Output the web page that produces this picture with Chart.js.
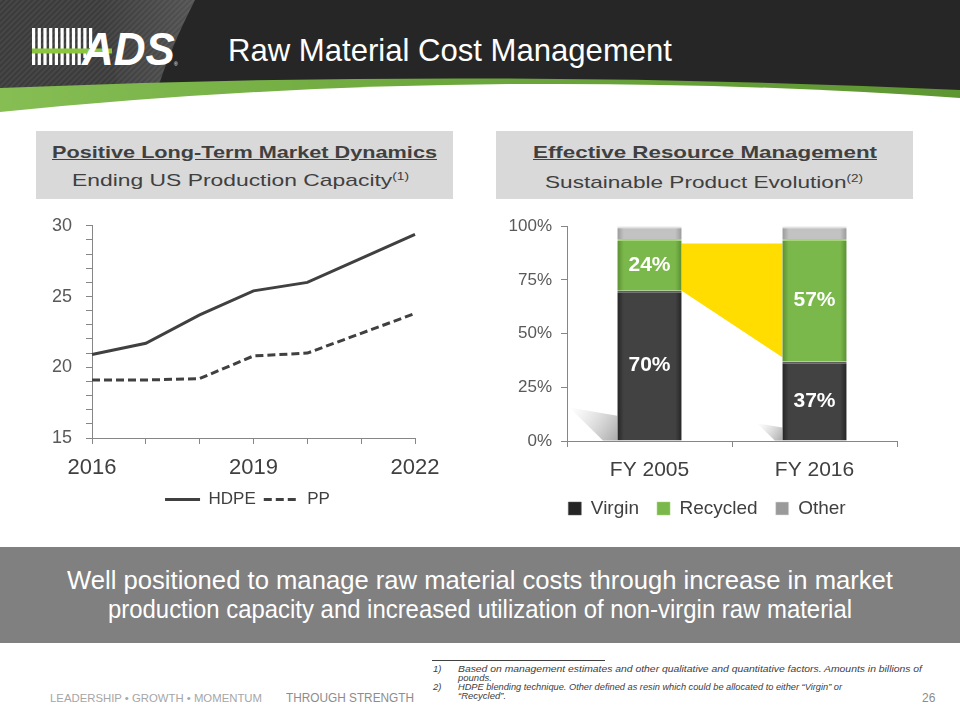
<!DOCTYPE html>
<html>
<head>
<meta charset="utf-8">
<script src="https://cdn.jsdelivr.net/npm/chart.js@4.4.0/dist/chart.umd.min.js"></script>
<style>
html,body{margin:0;padding:0;background:#fff;}
#slide{position:relative;width:960px;height:720px;overflow:hidden;font-family:"Liberation Sans",Arial,sans-serif;}
.abs{position:absolute;}
.t{position:absolute;white-space:nowrap;line-height:1;transform-origin:0 0;}
.narrow{font-family:"Liberation Sans Narrow","Arial Narrow","Liberation Sans",Arial,sans-serif;}
.sup{font-size:0.6em;position:relative;top:-0.55em;}
.box{position:absolute;background:#d9d9d9;}
.fn{position:absolute;white-space:nowrap;font-style:italic;font-size:9.5px;line-height:1;color:#404040;transform-origin:0 0;}
</style>
</head>
<body>
<div id="slide">
  <svg class="abs" style="left:0;top:0" width="960" height="125" viewBox="0 0 960 125">
    <defs>
      <pattern id="stripes" width="4" height="4" patternUnits="userSpaceOnUse" patternTransform="rotate(45)">
        <rect width="4" height="4" fill="#3b3b3b"/><rect width="2" height="4" fill="#474747"/>
      </pattern>
      <linearGradient id="gBand" x1="0" x2="1" y1="0" y2="0">
        <stop offset="0" stop-color="#86be54"/><stop offset="0.45" stop-color="#6da83d"/><stop offset="1" stop-color="#5e9632"/>
      </linearGradient>
      <linearGradient id="gloss" x1="0" x2="1" y1="0" y2="0">
        <stop offset="0" stop-color="#ffffff" stop-opacity="0"/><stop offset="1" stop-color="#ffffff" stop-opacity="0.12"/>
      </linearGradient>
    </defs>
    <rect width="960" height="125" fill="#262626"/>
    <path d="M0,0 H195 C180,30 166,60 156,95 L0,100 Z" fill="url(#stripes)"/>
    <path d="M100,0 H195 C180,30 166,60 156,95 L120,96 Z" fill="url(#gloss)"/>
    <path d="M0,88 Q480,68 960,90 V125 H0 Z" fill="url(#gBand)"/>
    <path d="M0,112 Q470,64 960,98 V125 H0 Z" fill="#ffffff"/>
    <g id="logo">
      <rect x="32" y="28" width="3.2" height="37" fill="#fff"/>
      <rect x="37.7" y="28" width="3.2" height="37" fill="#fff"/>
      <rect x="43.4" y="28" width="3.2" height="37" fill="#fff"/>
      <rect x="49.1" y="28" width="3.2" height="37" fill="#fff"/>
      <rect x="54.8" y="28" width="3.2" height="37" fill="#fff"/>
      <rect x="60.5" y="28" width="3.2" height="37" fill="#fff"/>
      <rect x="66.2" y="28" width="3.2" height="37" fill="#fff"/>
      <rect x="71.9" y="28" width="3.2" height="37" fill="#fff"/>
      <rect x="77.6" y="28" width="3.2" height="37" fill="#fff"/>
      <rect x="83.3" y="28" width="3.2" height="30" fill="#fff"/>
      <rect x="89" y="28" width="3.2" height="20" fill="#fff"/>
      <rect x="32" y="48.5" width="80" height="5" fill="#8cc63f"/>
      <text x="82" y="65" fill="#fff" font-family="Liberation Sans, Arial, sans-serif" font-weight="bold" font-style="italic" font-size="46" textLength="93" lengthAdjust="spacingAndGlyphs">ADS</text>
      <text x="174" y="66" fill="#fff" font-family="Liberation Sans, Arial, sans-serif" font-size="5">®</text>
    </g>
  </svg>
  <div class="t narrow" data-w="444" style="left:228px;top:34px;font-size:32px;color:#fff;">Raw Material Cost Management</div>

  <div class="box" style="left:36px;top:131px;width:417px;height:68px;"></div>
  <div class="box" style="left:496px;top:131px;width:417px;height:68px;"></div>
  <div class="t" data-w="385" style="left:52px;top:144px;font-size:17px;font-weight:bold;color:#404040;text-decoration:underline;">Positive Long-Term Market Dynamics</div>
  <div class="t" data-w="337" style="left:72px;top:172px;font-size:17px;color:#404040;">Ending US Production Capacity<span class="sup">(1)</span></div>
  <div class="t" data-w="344" style="left:533px;top:144px;font-size:17px;font-weight:bold;color:#404040;text-decoration:underline;">Effective Resource Management</div>
  <div class="t" data-w="318" style="left:545px;top:174px;font-size:17px;color:#404040;">Sustainable Product Evolution<span class="sup">(2)</span></div>

  <canvas id="lineChart" class="abs" style="left:30px;top:201px;" width="435" height="317"></canvas>
  <canvas id="barChart" class="abs" style="left:495px;top:207px;" width="424" height="321"></canvas>

  <div class="abs" style="left:0;top:547px;width:960px;height:96px;background:#808080;"></div>
  <div class="t narrow" data-w="826" style="left:67px;top:568px;font-size:25px;color:#fff;">Well positioned to manage raw material costs through increase in market</div>
  <div class="t narrow" data-w="744" style="left:108px;top:597px;font-size:25px;color:#fff;">production capacity and increased utilization of non-virgin raw material</div>

  <div class="abs" style="left:432px;top:660px;width:173px;height:1px;background:#404040;"></div>
  <div class="fn" style="left:433px;top:664px;">1)</div>
  <div class="fn" data-w="464" style="left:458px;top:664px;">Based on management estimates and other qualitative and quantitative factors. Amounts in billions of</div>
  <div class="fn" style="left:458px;top:673px;">pounds.</div>
  <div class="fn" style="left:433px;top:682px;">2)</div>
  <div class="fn" data-w="384" style="left:458px;top:682px;">HDPE blending technique. Other defined as resin which could be allocated to either “Virgin” or</div>
  <div class="fn" style="left:458px;top:691px;">“Recycled”.</div>

  <div class="t" data-w="212" style="left:50px;top:693px;font-size:11px;color:#a6a6a6;">LEADERSHIP • GROWTH • MOMENTUM</div>
  <div class="t" data-w="128" style="left:286px;top:692px;font-size:12.5px;color:#8c8c8c;">THROUGH STRENGTH</div>
  <div class="t" style="left:922px;top:692px;font-size:12px;color:#8c8c8c;">26</div>
</div>

<script>
// ---------- data ----------
const years = ['2016', '2017', '2018', '2019', '2020', '2021', '2022'];
const hdpe = [20.9, 21.7, 23.7, 25.4, 26.0, 27.7, 29.4];
const pp = [19.1, 19.1, 19.2, 20.8, 21.0, 22.4, 23.8];
const yearTickLabels = ['2016', '2019', '2022'];
const lineYTicks = [15, 20, 25, 30];

const periods = ['FY 2005', 'FY 2016'];
const virgin = [70, 37];
const recycled = [24, 57];
const other = [6, 6];
const highlightTop = [92, 92];
const highlightBottom = [70, 39];
const pctTicks = [0, 25, 50, 75, 100];

const FONT = '"Liberation Sans", Arial, sans-serif';
const AXIS = '#868686';
const BAR_PCT = 0.39;

// invisible right-hand spacer axis (keeps legend centred like the original)
function spacerAxis(width) {
  return {
    type: 'linear', position: 'right', display: true, min: 0, max: 1,
    grid: { display: false }, border: { display: false }, ticks: { display: false },
    afterFit: s => { s.width = width; }
  };
}

// ---------- line chart ----------
new Chart(document.getElementById('lineChart'), {
  type: 'line',
  data: {
    labels: years,
    datasets: [
      { label: 'HDPE', data: hdpe, borderColor: '#404040', backgroundColor: '#404040', borderWidth: 3, pointRadius: 0, tension: 0 },
      { label: 'PP', data: pp, borderColor: '#404040', backgroundColor: '#404040', borderWidth: 3, borderDash: [8, 4], pointRadius: 0, tension: 0 }
    ]
  },
  options: {
    responsive: false, animation: false,
    layout: { padding: { top: 0, right: 0, left: 0, bottom: 0 } },
    plugins: {
      tooltip: { enabled: false },
      legend: {
        position: 'bottom',
        labels: {
          usePointStyle: true, pointStyle: 'line', pointStyleWidth: 35, padding: 8, color: '#404040',
          font: { family: FONT, size: 17 },
          generateLabels: chart => {
            const items = Chart.defaults.plugins.legend.labels.generateLabels(chart);
            items.forEach(it => {
              const ds = chart.data.datasets[it.datasetIndex];
              it.lineDash = ds.borderDash || [];
              it.lineWidth = ds.borderWidth;
              it.strokeStyle = ds.borderColor;
              it.pointStyle = 'line';
            });
            return items;
          }
        }
      }
    },
    scales: {
      x: {
        grid: { drawOnChartArea: false, tickLength: 6, color: AXIS },
        border: { color: AXIS, width: 1 },
        ticks: { autoSkip: false, maxRotation: 0, padding: 11, color: '#404040', font: { family: FONT, size: 22 },
          callback: (v, i) => yearTickLabels.includes(years[i]) ? years[i] : '' },
        afterFit: s => { s.height = 45; }
      },
      y: {
        min: 15, max: 30,
        grid: { drawOnChartArea: false, tickLength: 6, color: AXIS },
        border: { color: AXIS, width: 1 },
        ticks: { autoSkip: false, stepSize: 1, padding: 14, color: '#595959', font: { family: FONT, size: 18 },
          callback: v => lineYTicks.includes(v) ? v : '' },
        afterFit: s => { s.width = 62; }
      },
      yR: spacerAxis(50)
    }
  }
});

// ---------- bar chart ----------
function barFill(base, edge) {
  return ctx => {
    const chart = ctx.chart;
    if (ctx.type !== 'data' || !chart.chartArea || !chart.scales.x) return base;
    const xs = chart.scales.x;
    const cx = xs.getPixelForValue(ctx.dataIndex);
    const half = xs.width / periods.length * BAR_PCT / 2;
    const g = chart.ctx.createLinearGradient(cx - half, 0, cx + half, 0);
    g.addColorStop(0, edge); g.addColorStop(0.1, base); g.addColorStop(0.9, base); g.addColorStop(1, edge);
    return g;
  };
}

const shadowPlugin = {
  id: 'barShadow',
  beforeDatasetsDraw(chart) {
    const meta = chart.getDatasetMeta(0);
    const c = chart.ctx;
    meta.data.forEach(bar => {
      const left = bar.x - bar.width / 2;
      const h = bar.base - bar.y;
      const dy = h * 0.22, dx = h * 0.32;
      const g = c.createLinearGradient(left, bar.base, left - dx, bar.base - dy);
      g.addColorStop(0, 'rgba(140,140,140,0.75)');
      g.addColorStop(1, 'rgba(200,200,200,0)');
      c.save();
      c.fillStyle = g;
      c.beginPath();
      c.moveTo(left, bar.base);
      c.lineTo(left, bar.base - dy * 0.75);
      c.lineTo(left - dx, bar.base - dy);
      c.lineTo(left - dx * 0.3, bar.base);
      c.closePath();
      c.fill();
      c.restore();
    });
  }
};

const highlightPlugin = {
  id: 'highlight',
  beforeDatasetsDraw(chart) {
    const meta = chart.getDatasetMeta(0);
    const b0 = meta.data[0], b1 = meta.data[1];
    if (!b0 || !b1) return;
    const y = chart.scales.y;
    const x0 = b0.x + b0.width / 2, x1 = b1.x - b1.width / 2;
    const c = chart.ctx;
    c.save();
    c.fillStyle = '#ffdd00';
    c.beginPath();
    c.moveTo(x0, y.getPixelForValue(highlightTop[0]));
    c.lineTo(x1, y.getPixelForValue(highlightTop[1]));
    c.lineTo(x1, y.getPixelForValue(highlightBottom[1]));
    c.lineTo(x0, y.getPixelForValue(highlightBottom[0]));
    c.closePath();
    c.fill();
    c.restore();
  }
};

const labelPlugin = {
  id: 'segLabels',
  afterDatasetsDraw(chart) {
    const c = chart.ctx;
    c.save();
    c.fillStyle = '#ffffff';
    c.font = 'bold 21px ' + FONT;
    c.textAlign = 'center';
    c.textBaseline = 'middle';
    [0, 1].forEach(di => {
      const ds = chart.data.datasets[di];
      chart.getDatasetMeta(di).data.forEach((bar, i) => {
        c.fillText(ds.data[i] + '%', bar.x, (bar.y + bar.base) / 2);
      });
    });
    c.restore();
  }
};

new Chart(document.getElementById('barChart'), {
  type: 'bar',
  data: {
    labels: periods,
    datasets: [
      { label: 'Virgin', data: virgin, backgroundColor: barFill('#424242', '#252525'), borderColor: '#5e5e5e', borderWidth: { top: 2, left: 0, right: 0, bottom: 0 } },
      { label: 'Recycled', data: recycled, backgroundColor: barFill('#7bb84b', '#5a8f32'), borderColor: '#a4d477', borderWidth: { top: 2, left: 0, right: 0, bottom: 0 } },
      { label: 'Other', data: other, backgroundColor: barFill('#c2c2c2', '#9a9a9a'), borderColor: '#e2e2e2', borderWidth: { top: 2, left: 0, right: 0, bottom: 0 } }
    ]
  },
  options: {
    responsive: false, animation: false,
    categoryPercentage: 1, barPercentage: BAR_PCT,
    layout: { padding: { top: 0, right: 0, left: 0, bottom: 0 } },
    plugins: {
      tooltip: { enabled: false },
      legend: {
        position: 'bottom',
        labels: { boxWidth: 13, boxHeight: 13, padding: 18, color: '#404040', font: { family: FONT, size: 19 } }
      }
    },
    scales: {
      x: {
        stacked: true,
        grid: { drawOnChartArea: false, tickLength: 6, color: AXIS },
        border: { color: AXIS, width: 1 },
        ticks: { padding: 11, color: '#404040', font: { family: FONT, size: 21 } },
        afterFit: s => { s.height = 40; }
      },
      y: {
        stacked: true, min: 0, max: 100,
        grid: { drawOnChartArea: false, tickLength: 6, color: AXIS },
        border: { color: AXIS, width: 1 },
        ticks: { autoSkip: false, stepSize: 25, padding: 9, color: '#595959', font: { family: FONT, size: 17 },
          callback: v => pctTicks.includes(v) ? v + '%' : '' },
        afterFit: s => { s.width = 72; }
      },
      yR: spacerAxis(22)
    }
  },
  plugins: [shadowPlugin, highlightPlugin, labelPlugin]
});

// ---------- fit decorative text widths ----------
function fitAll() {
  document.querySelectorAll('[data-w]').forEach(el => {
    el.style.transform = 'none';
    const w = el.getBoundingClientRect().width;
    const t = +el.dataset.w;
    if (w > 0) el.style.transform = 'scaleX(' + (t / w) + ')';
  });
}
fitAll();
if (document.fonts && document.fonts.ready) document.fonts.ready.then(fitAll);
</script>
</body>
</html>
